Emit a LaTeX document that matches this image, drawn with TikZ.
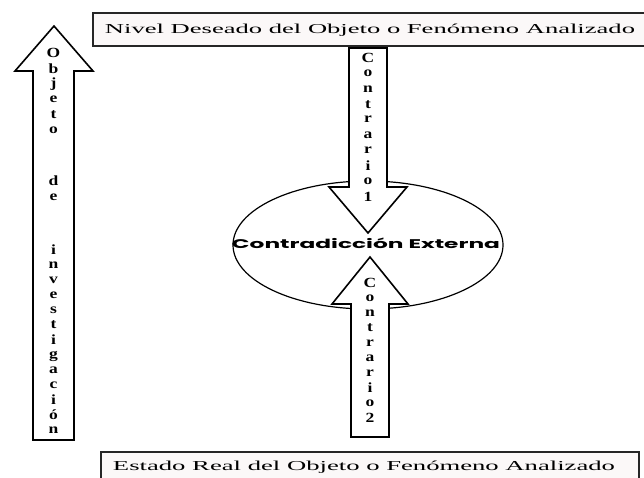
\documentclass[tikz,border=0pt]{standalone}
\usepackage{fontspec}
\usepackage{graphicx}
\setmainfont{Liberation Serif}
\newfontfamily\geofont{Poppins}
\usetikzlibrary{shapes.geometric}
\definecolor{boxfill}{HTML}{FBF8F8}
\begin{document}
\begin{tikzpicture}[x=1pt,y=-1pt,
  frame/.style={draw=black!85, line width=1.6pt, fill=boxfill},
  blockarrow/.style={draw=black, line width=1.6pt, fill=white, line join=miter},
  ltr/.style={font=\fontsize{14}{14}\selectfont\bfseries, inner sep=0pt},
  boxtext/.style={font=\fontsize{14}{16}\selectfont, inner sep=0pt, anchor=base},
  ]
\useasboundingbox (0,0) rectangle (644,477);
\begin{scope}
  \clip (0,0) rectangle (644,477);
  \draw[frame] (93,13) rectangle (652,46);
  \draw[frame] (101,452) rectangle (639,492);
\end{scope}
\node[boxtext] (toptext) at (370,33) {\resizebox{530pt}{!}{\scalebox{1.95}[1]{Nivel Deseado del Objeto o Fenómeno Analizado}}};
\node[boxtext] (bottext) at (364,470) {\resizebox{502pt}{!}{\scalebox{1.95}[1]{Estado Real del Objeto o Fenómeno Analizado}}};

\node[ellipse, draw=black, line width=1.2pt, minimum width=270pt, minimum height=128pt, inner sep=0pt] (ell) at (368,245) {};

\draw[blockarrow] (33,440) -- (33,71) -- (15,71) -- (54,26) -- (93,71) -- (74,71) -- (74,440) -- cycle;
\draw[blockarrow] (349,48) -- (349,187) -- (329,187) -- (368,233) -- (407,187) -- (387,187) -- (387,48) -- cycle;
\draw[blockarrow] (351,437) -- (351,304) -- (332,304) -- (370,257) -- (408,304) -- (389,304) -- (389,437) -- cycle;

\node[inner sep=0pt] (ce) at (366,243.5) {\resizebox{268pt}{10.5pt}{\geofont\bfseries Contradicción Externa}};

\foreach \ch [count=\i] in {O,b,j,e,t,o}
  \node[ltr] (oa\i) at (53.5,{53+15.4*(\i-1)}) {\scalebox{1.25}[1]{\ch}};
\foreach \ch [count=\i] in {d,e}
  \node[ltr] (ob\i) at (53.5,{181+16*(\i-1)}) {\scalebox{1.25}[1]{\ch}};
\foreach \ch/\yy [count=\i] in {i/250,n/265,v/280,e/295,s/310,t/325,i/339.5,g/356.5,a/370,c/385,i/400,ó/414.5,n/430}
  \node[ltr] (oc\i) at (53.5,\yy) {\scalebox{1.25}[1]{\ch}};
\foreach \ch [count=\i] in {C,o,n,t,r,a,r,i,o,1}
  \node[ltr] (ca\i) at (368,{58+15.4*(\i-1)}) {\scalebox{1.25}[1]{\ch}};
\foreach \ch [count=\i] in {C,o,n,t,r,a,r,i,o,2}
  \node[ltr] (cb\i) at (370,{283+15*(\i-1)}) {\scalebox{1.25}[1]{\ch}};
\end{tikzpicture}
\end{document}
